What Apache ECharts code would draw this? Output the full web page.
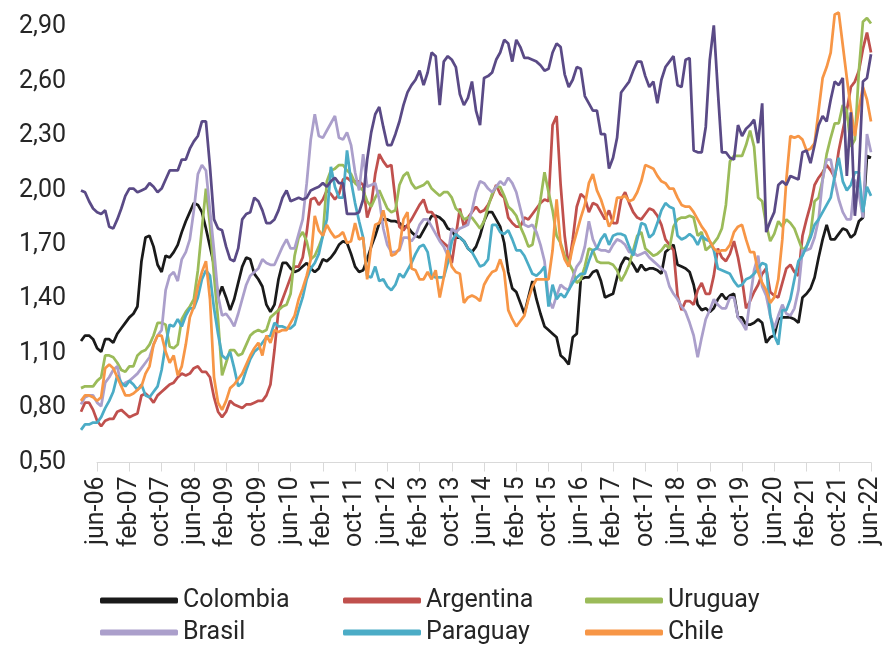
<!DOCTYPE html>
<html>
<head>
<meta charset="utf-8">
<script src="https://cdn.jsdelivr.net/npm/echarts@6/dist/echarts.min.js"></script>
<style>
  html, body { margin: 0; padding: 0; background: #fff; }
  #chart { width: 886px; height: 645px; }
</style>
</head>
<body>
<div id="chart"></div>
<script>
// meses: feb-06 .. jun-22
const meses = ['ene', 'feb', 'mar', 'abr', 'may', 'jun', 'jul', 'ago', 'sep', 'oct', 'nov', 'dic'];
const fechas = [];
for (let i = 0; i < 197; i++) {
    const m = (1 + i) % 12;
    const a = 6 + Math.floor((1 + i) / 12);
    fechas.push(meses[m] + '-' + String(a).padStart(2, '0'));
}
const fechasEje = fechas.slice(4); // eje visible empieza en jun-06

const colombia = [
    1.17, 1.20, 1.20, 1.18,
    1.13, 1.11, 1.18, 1.18, 1.16, 1.21, 1.24, 1.27,
    1.30, 1.32, 1.36, 1.61, 1.74, 1.75, 1.69, 1.59,
    1.55, 1.64, 1.63, 1.66, 1.70, 1.77, 1.83, 1.88,
    1.93, 1.92, 1.88, 1.79, 1.69, 1.59, 1.41, 1.47,
    1.41, 1.34, 1.40, 1.49, 1.58, 1.63, 1.62, 1.54,
    1.51, 1.47, 1.37, 1.33, 1.37, 1.51, 1.60, 1.60,
    1.57, 1.55, 1.56, 1.58, 1.60, 1.57, 1.55, 1.57,
    1.62, 1.61, 1.63, 1.66, 1.70, 1.72, 1.71, 1.65,
    1.58, 1.55, 1.56, 1.62, 1.69, 1.75, 1.82, 1.84,
    1.84, 1.83, 1.83, 1.82, 1.80, 1.80, 1.77, 1.75,
    1.74, 1.78, 1.82, 1.86, 1.86, 1.85, 1.83, 1.79,
    1.78, 1.74, 1.74, 1.72, 1.68, 1.66, 1.69, 1.75,
    1.83, 1.88, 1.88, 1.84, 1.80, 1.71, 1.55, 1.46,
    1.44, 1.38, 1.32, 1.41, 1.50, 1.40, 1.32, 1.25,
    1.23, 1.21, 1.19, 1.09, 1.07, 1.04, 1.19, 1.21,
    1.51, 1.52, 1.52, 1.55, 1.56, 1.50, 1.41, 1.42,
    1.43, 1.52, 1.59, 1.63, 1.62, 1.59, 1.55, 1.59,
    1.56, 1.57, 1.57, 1.56, 1.54, 1.66, 1.68, 1.70,
    1.59, 1.58, 1.57, 1.55, 1.48, 1.37, 1.34, 1.35,
    1.33, 1.35, 1.40, 1.43, 1.40, 1.42, 1.43, 1.30,
    1.30, 1.26, 1.26, 1.27, 1.29, 1.27, 1.16, 1.19,
    1.20, 1.29, 1.30, 1.30, 1.30, 1.29, 1.27, 1.41,
    1.43, 1.46, 1.52, 1.63, 1.73, 1.81, 1.73, 1.73,
    1.76, 1.79, 1.78, 1.74, 1.76, 1.83, 1.85, 2.19,
    2.18
];
const argentina = [
    0.78, 0.83, 0.83, 0.79,
    0.73, 0.70, 0.73, 0.74, 0.74, 0.78, 0.79, 0.77,
    0.75, 0.76, 0.77, 0.87, 0.88, 0.86, 0.83, 0.87,
    0.89, 0.91, 0.93, 0.94, 0.97, 0.99, 0.98, 0.99,
    1.02, 1.03, 1.00, 1.00, 0.97, 0.86, 0.78, 0.75,
    0.78, 0.84, 0.82, 0.81, 0.80, 0.82, 0.82, 0.83,
    0.84, 0.84, 0.87, 0.93, 1.12, 1.34, 1.40, 1.46,
    1.52, 1.58, 1.58, 1.63, 1.77, 1.95, 1.96, 1.92,
    1.95, 2.00, 1.98, 1.95, 1.98, 2.06, 2.07, 2.05,
    2.05, 2.05, 2.03, 1.85, 1.92, 2.09, 2.20, 2.16,
    2.13, 2.14, 1.95, 1.80, 1.78, 1.81, 1.84, 1.88,
    1.92, 1.95, 1.88, 1.88, 1.85, 1.73, 1.71, 1.69,
    1.60, 1.75, 1.90, 1.80, 1.85, 1.88, 1.91, 1.88,
    1.89, 1.92, 1.97, 2.03, 1.98, 1.96, 1.85, 1.82,
    1.80, 1.80, 1.85, 1.84, 1.87, 1.90, 1.93, 1.95,
    1.94, 2.36, 2.41, 2.03, 1.75, 1.58, 1.73, 1.91,
    1.98, 1.96, 1.88, 1.93, 1.92, 1.88, 1.84, 1.89,
    1.82, 1.82, 1.95, 1.99, 1.93, 1.88, 1.85, 1.84,
    1.87, 1.90, 1.89, 1.86, 1.81, 1.73, 1.70, 1.67,
    1.42, 1.34, 1.39, 1.39, 1.37, 1.45, 1.49, 1.43,
    1.43, 1.53, 1.68, 1.63, 1.61, 1.65, 1.72, 1.63,
    1.51, 1.35, 1.39, 1.44, 1.48, 1.54, 1.57, 1.44,
    1.42, 1.41, 1.49, 1.57, 1.59, 1.55, 1.53, 1.75,
    1.84, 1.92, 2.03, 2.07, 2.10, 2.14, 2.11, 2.07,
    2.22, 2.33, 2.44, 2.57, 2.60, 2.66, 2.78, 2.87,
    2.76
];
const uruguay = [
    0.91, 0.92, 0.92, 0.92,
    0.95, 0.97, 1.09, 1.09, 1.08, 1.05, 1.01, 1.00,
    1.03, 1.03, 1.09, 1.11, 1.12, 1.15, 1.20, 1.27,
    1.27, 1.26, 1.14, 1.13, 1.15, 1.29, 1.33, 1.36,
    1.40, 1.56, 1.79, 2.01, 1.81, 1.53, 1.29, 0.98,
    1.05, 1.12, 1.12, 1.09, 1.10, 1.15, 1.20, 1.22,
    1.23, 1.22, 1.23, 1.30, 1.32, 1.34, 1.36, 1.37,
    1.43, 1.64, 1.74, 1.77, 1.72, 1.62, 1.64, 1.69,
    1.75, 2.05, 2.11, 2.12, 2.14, 2.14, 2.11, 2.09,
    2.04, 2.02, 2.00, 1.94, 1.91, 1.96, 2.00, 1.95,
    1.90, 1.88, 1.89, 2.03, 2.08, 2.10, 2.04, 2.01,
    2.02, 2.03, 2.05, 2.01, 1.99, 1.97, 1.99, 1.99,
    1.96, 1.90, 1.88, 1.84, 1.85, 1.85, 1.82, 1.79,
    1.83, 1.91, 1.98, 2.02, 2.02, 1.97, 1.91, 1.89,
    1.86, 1.80, 1.75, 1.69, 1.70, 1.82, 1.95, 2.10,
    1.99, 1.89, 1.75, 1.71, 1.64, 1.60, 1.56, 1.49,
    1.51, 1.58, 1.68, 1.67, 1.61, 1.60, 1.60, 1.60,
    1.59, 1.56, 1.50, 1.54, 1.59, 1.67, 1.75, 1.77,
    1.68, 1.66, 1.64, 1.65, 1.67, 1.70, 1.68, 1.80,
    1.84, 1.85, 1.85, 1.86, 1.85, 1.75, 1.77, 1.67,
    1.69, 1.71, 1.74, 1.79, 1.92, 2.16, 2.19, 2.19,
    2.19, 2.25, 2.33, 2.24, 1.96, 1.94, 1.81, 1.72,
    1.76, 1.83, 1.80, 1.84, 1.82, 1.79, 1.73, 1.67,
    1.69, 1.76, 1.94, 1.96, 2.06, 2.20, 2.29, 2.37,
    2.37, 2.47, 2.44, 2.24, 2.28, 2.66, 2.93, 2.95,
    2.92
];
const brasil = [
    0.82, 0.86, 0.87, 0.87,
    0.83, 0.81, 0.94, 0.97, 1.01, 1.03, 0.92, 0.94,
    0.95, 0.97, 0.99, 1.02, 1.05, 1.08, 1.15, 1.20,
    1.23, 1.45, 1.53, 1.55, 1.50, 1.62, 1.66, 1.73,
    1.89, 2.09, 2.14, 2.11, 1.89, 1.67, 1.42, 1.31,
    1.32, 1.29, 1.25, 1.32, 1.40, 1.48, 1.53, 1.55,
    1.57, 1.62, 1.60, 1.59, 1.59, 1.64, 1.69, 1.73,
    1.68, 1.68, 1.76, 1.84, 2.04, 2.28, 2.42, 2.30,
    2.29, 2.33, 2.37, 2.41, 2.29, 2.28, 2.32, 2.25,
    2.10, 2.00, 2.20, 2.02, 2.03, 2.04, 1.95, 1.79,
    1.70, 1.66, 1.66, 1.67, 1.74, 1.74, 1.72, 1.75,
    1.81, 1.84, 1.84, 1.80, 1.76, 1.72, 1.69, 1.64,
    1.79, 1.77, 1.79, 1.80, 1.81, 1.89, 1.99, 2.05,
    2.04, 2.01, 1.99, 2.02, 2.05, 2.03, 2.07, 2.04,
    1.99, 1.90, 1.81, 1.80, 1.81, 1.77, 1.70, 1.61,
    1.40, 1.35, 1.42, 1.48, 1.46, 1.45, 1.52, 1.58,
    1.61, 1.69, 1.83, 1.73, 1.68, 1.67, 1.67, 1.66,
    1.70, 1.73, 1.72, 1.70, 1.66, 1.66, 1.64, 1.65,
    1.66, 1.63, 1.61, 1.59, 1.57, 1.55, 1.47, 1.43,
    1.40, 1.36, 1.33, 1.27, 1.20, 1.08, 1.19, 1.29,
    1.34, 1.40, 1.37, 1.35, 1.35, 1.41, 1.41, 1.30,
    1.27, 1.23, 1.40, 1.56, 1.64, 1.47, 1.42, 1.31,
    1.24, 1.31, 1.37, 1.32, 1.31, 1.35, 1.45, 1.67,
    1.67, 1.68, 1.74, 1.84, 2.06, 2.17, 2.17, 2.05,
    1.95, 1.88, 1.84, 1.84, 2.06, 1.98, 1.85, 2.31,
    2.21
];
const paraguay = [
    0.68, 0.71, 0.71, 0.72,
    0.72, 0.75, 0.80, 0.84, 0.89, 0.98, 0.94, 0.92,
    0.95, 0.93, 0.90, 0.93, 0.87, 0.86, 0.89, 0.92,
    1.01, 1.15, 1.26, 1.25, 1.29, 1.25, 1.31, 1.35,
    1.35, 1.41, 1.51, 1.56, 1.53, 1.35, 1.21, 1.09,
    1.07, 1.11, 1.02, 0.92, 0.94, 1.01, 1.07, 1.11,
    1.13, 1.16, 1.19, 1.20, 1.27, 1.25, 1.25, 1.24,
    1.24, 1.26, 1.34, 1.41, 1.51, 1.57, 1.60, 1.65,
    1.75, 1.84, 2.13, 2.02, 1.96, 1.96, 2.22, 2.05,
    1.93, 1.83, 1.74, 1.53, 1.52, 1.58, 1.50, 1.51,
    1.47, 1.45, 1.48, 1.54, 1.52, 1.56, 1.60, 1.65,
    1.69, 1.70, 1.66, 1.53, 1.52, 1.52, 1.52, 1.60,
    1.72, 1.76, 1.74, 1.72, 1.68, 1.66, 1.62, 1.58,
    1.59, 1.62, 1.81, 1.81, 1.77, 1.76, 1.78, 1.73,
    1.67, 1.67, 1.64, 1.59, 1.54, 1.53, 1.55, 1.58,
    1.36, 1.48, 1.40, 1.43, 1.41, 1.45, 1.49, 1.52,
    1.54, 1.54, 1.61, 1.67, 1.68, 1.73, 1.76, 1.70,
    1.75, 1.76, 1.76, 1.75, 1.69, 1.64, 1.73, 1.82,
    1.81, 1.74, 1.76, 1.82, 1.89, 1.93, 1.91, 1.90,
    1.75, 1.73, 1.74, 1.76, 1.74, 1.70, 1.75, 1.73,
    1.72, 1.67, 1.57, 1.56, 1.55, 1.54, 1.50, 1.47,
    1.48, 1.51, 1.52, 1.54, 1.57, 1.60, 1.59, 1.31,
    1.20, 1.15, 1.34, 1.34, 1.40, 1.51, 1.61, 1.64,
    1.69, 1.74, 1.81, 1.84, 1.88, 1.92, 1.96, 2.08,
    2.18, 2.05, 2.00, 2.03, 2.10, 2.10, 1.88, 2.02,
    1.97
];
const chile = [
    0.84, 0.87, 0.87, 0.86,
    0.84, 0.86, 1.02, 1.04, 1.02, 0.97, 0.92, 0.87,
    0.87, 0.88, 0.90, 0.92, 0.99, 1.03, 1.15, 1.20,
    1.20, 1.11, 1.05, 1.09, 0.98, 1.03, 1.15, 1.30,
    1.36, 1.47, 1.55, 1.61, 1.40, 0.97, 0.83, 0.79,
    0.84, 0.91, 0.93, 0.96, 0.99, 1.04, 1.09, 1.13,
    1.16, 1.09, 1.20, 1.16, 1.23, 1.22, 1.23, 1.23,
    1.27, 1.31, 1.40, 1.46, 1.53, 1.62, 1.86, 1.78,
    1.75, 1.81, 1.77, 1.74, 1.75, 1.77, 1.71, 1.72,
    1.82, 1.73, 1.74, 1.51, 1.70, 1.81, 1.82, 1.89,
    1.79, 1.64, 1.65, 1.68, 1.84, 1.88, 1.57, 1.56,
    1.51, 1.51, 1.55, 1.51, 1.56, 1.41, 1.52, 1.67,
    1.58, 1.55, 1.54, 1.38, 1.41, 1.42, 1.41, 1.39,
    1.48, 1.52, 1.55, 1.56, 1.62, 1.55, 1.34, 1.29,
    1.25, 1.28, 1.31, 1.40, 1.47, 1.51, 1.51, 1.51,
    1.51, 1.67, 1.95, 1.70, 1.62, 1.58, 1.69, 1.77,
    1.85, 1.92, 2.04, 2.09, 2.00, 1.95, 1.88, 1.80,
    1.84, 1.96, 1.96, 1.97, 1.94, 1.95, 1.99, 2.05,
    2.14, 2.13, 2.12, 2.08, 2.05, 2.04, 2.01, 2.01,
    1.96, 1.92, 1.91, 1.91, 1.88, 1.84, 1.80, 1.77,
    1.72, 1.68, 1.66, 1.67, 1.67, 1.70, 1.77, 1.80,
    1.81, 1.73, 1.66, 1.66, 1.55, 1.49, 1.45, 1.38,
    1.41, 1.51, 1.73, 2.06, 2.30, 2.29, 2.30, 2.28,
    2.22, 2.23, 2.26, 2.44, 2.62, 2.68, 2.76, 2.97,
    2.98, 2.80, 2.62, 2.45, 2.30, 2.45, 2.57, 2.50,
    2.38
];
// serie sin entrada visible en la leyenda
const otro = [
    2.00, 1.99, 1.94, 1.90,
    1.88, 1.87, 1.89, 1.80, 1.79, 1.84, 1.90, 1.97,
    2.01, 2.01, 1.99, 2.00, 2.01, 2.04, 2.02, 1.99,
    2.01, 2.06, 2.11, 2.11, 2.11, 2.17, 2.17, 2.23,
    2.27, 2.30, 2.38, 2.38, 2.13, 1.84, 1.79, 1.78,
    1.69, 1.62, 1.61, 1.68, 1.84, 1.87, 1.88, 1.96,
    1.94, 1.89, 1.82, 1.82, 1.84, 1.89, 1.96, 2.00,
    1.94, 1.95, 1.96, 1.95, 1.96, 2.00, 2.01, 2.02,
    2.04, 2.02, 2.05, 2.07, 2.04, 2.04, 1.87, 1.87,
    1.87, 1.88, 1.95, 2.17, 2.32, 2.42, 2.46, 2.35,
    2.25, 2.25, 2.31, 2.38, 2.47, 2.54, 2.58, 2.61,
    2.66, 2.58, 2.65, 2.76, 2.74, 2.47, 2.71, 2.74,
    2.72, 2.68, 2.53, 2.47, 2.51, 2.60, 2.44, 2.36,
    2.62, 2.63, 2.65, 2.72, 2.76, 2.83, 2.81, 2.71,
    2.83, 2.79, 2.73, 2.73, 2.72, 2.71, 2.69, 2.66,
    2.67, 2.76, 2.81, 2.79, 2.64, 2.57, 2.61, 2.68,
    2.67, 2.52, 2.48, 2.44, 2.44, 2.31, 2.31, 2.12,
    2.18, 2.29, 2.54, 2.57, 2.60, 2.66, 2.71, 2.71,
    2.63, 2.57, 2.60, 2.48, 2.61, 2.68, 2.71, 2.74,
    2.58, 2.57, 2.72, 2.73, 2.22, 2.21, 2.21, 2.35,
    2.72, 2.91, 2.55, 2.21, 2.21, 2.18, 2.17, 2.36,
    2.30, 2.34, 2.36, 2.39, 2.26, 2.48, 1.77, 1.83,
    1.88, 2.03, 2.05, 2.03, 2.08, 2.07, 2.06, 2.21,
    2.22, 2.15, 2.25, 2.36, 2.41, 2.38, 2.50, 2.60,
    2.58, 2.62, 2.08, 2.43, 1.86, 2.10, 2.60, 2.62,
    2.75
];

const fuente = 'Roboto';
const colorTexto = '#262626';

const chart = echarts.init(document.getElementById('chart'));

function linea(name, data, color) {
    return {
        name: name,
        type: 'line',
        xAxisIndex: 0,
        yAxisIndex: 0,
        data: data,
        showSymbol: false,
        symbol: 'none',
        lineStyle: { width: 2.75, color: color },
        itemStyle: { color: color },
        emphasis: { disabled: true }
    };
}

// una leyenda por entrada, en 3 columnas x 2 filas
function leyenda(left, top, nombre) {
    return {
        left: left,
        top: top,
        padding: 0,
        itemWidth: 78,
        itemHeight: 6,
        icon: 'roundRect',
        selectedMode: false,
        textStyle: { fontFamily: fuente, fontSize: 25, color: colorTexto, lineHeight: 25 },
        data: [nombre]
    };
}

chart.setOption({
    animation: false,
    grid: [
        { left: 81, right: 15, top: 9, bottom: 182.5 },
        { left: 97, right: 15, top: 9, bottom: 182.5 }
    ],
    legend: [
        leyenda(100, 588, 'Colombia'),
        leyenda(343, 588, 'Argentina'),
        leyenda(585, 588, 'Uruguay'),
        leyenda(100, 620, 'Brasil'),
        leyenda(343, 620, 'Paraguay'),
        leyenda(585, 620, 'Chile')
    ],
    xAxis: [
        {
            type: 'category',
            gridIndex: 0,
            data: fechas,
            boundaryGap: false,
            show: false
        },
        {
            type: 'category',
            gridIndex: 1,
            data: fechasEje,
            boundaryGap: false,
            axisLine: { show: true, lineStyle: { color: '#d9d9d9', width: 1 } },
            axisTick: { show: true, interval: 7, length: 9, lineStyle: { color: '#d9d9d9' } },
            axisLabel: {
                interval: 7,
                rotate: 90,
                margin: 14,
                padding: [8, 0, 0, 0],
                fontFamily: fuente,
                fontSize: 25,
                color: colorTexto
            },
            splitLine: { show: false }
        }
    ],
    yAxis: [
        {
            type: 'value',
            gridIndex: 0,
            min: 0.5,
            max: 3.0,
            interval: 0.3,
            axisLine: { show: false },
            axisTick: { show: false },
            splitLine: { show: false },
            axisLabel: {
                margin: 15,
                showMaxLabel: false,
                fontFamily: fuente,
                fontSize: 25,
                color: colorTexto,
                formatter: function (v) { return v.toFixed(2).replace('.', ','); }
            }
        },
        {
            type: 'value',
            gridIndex: 1,
            min: 0.5,
            max: 3.0,
            show: false
        }
    ],
    series: [
        linea('Colombia', colombia, '#1a1a1a'),
        linea('Argentina', argentina, '#c0504d'),
        linea('Uruguay', uruguay, '#9bbb59'),
        linea('Brasil', brasil, '#ab9fcb'),
        linea('Paraguay', paraguay, '#4bacc6'),
        linea('Chile', chile, '#f79646'),
        linea('Otro', otro, '#5a4a86')
    ]
});
</script>
</body>
</html>
